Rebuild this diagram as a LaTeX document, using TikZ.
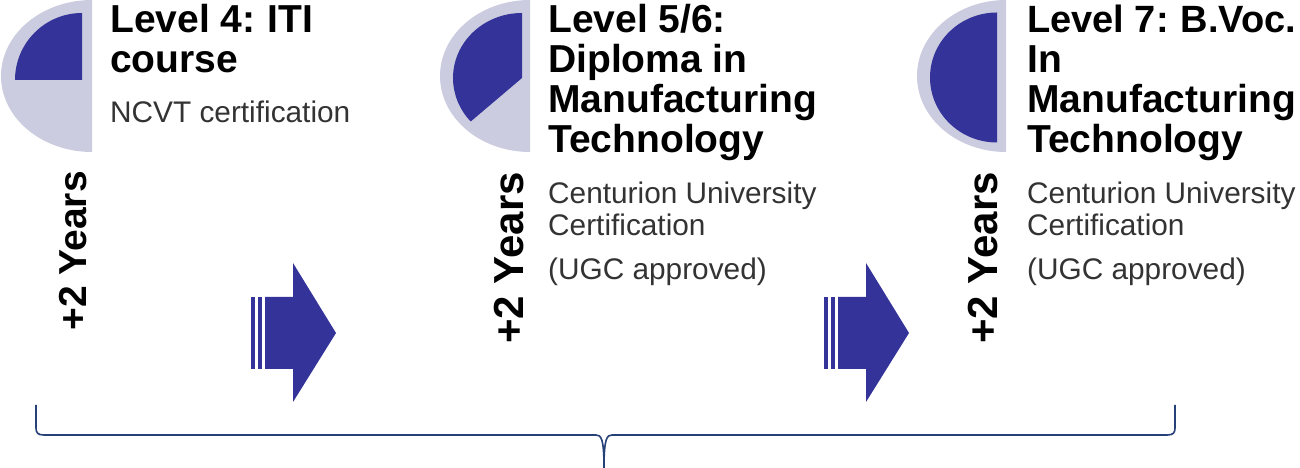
\documentclass[tikz,border=0pt]{standalone}
\usepackage{fontspec}
\setmainfont{Liberation Sans}
\definecolor{pielight}{RGB}{204,204,224}
\definecolor{piedark}{RGB}{51,51,153}
\definecolor{bracecol}{RGB}{38,64,120}
\definecolor{subgray}{RGB}{51,51,51}
\tikzset{
  titletext/.style={anchor=base west, inner sep=0pt, font=\fontsize{39}{39}\selectfont\bfseries, text=black},
  subtext/.style={anchor=base west, inner sep=0pt, font=\fontsize{29.8}{30}\selectfont, text=subgray},
  yearstext/.style={anchor=base east, rotate=90, inner sep=0pt, font=\fontsize{42}{42}\selectfont\bfseries, text=black},
  lightpie/.style={fill=pielight, draw=none},
  darkpie/.style={fill=piedark, draw=none},
  blockarrow/.style={fill=piedark, draw=none},
  bracestyle/.style={draw=bracecol, line width=1.6pt, line join=round}
}
\begin{document}
\begin{tikzpicture}[x=1pt,y=1pt]
\useasboundingbox (0,0) rectangle (1300,468);
% pie 1
\fill[lightpie] (92,392) -- (92,468) arc[start angle=90, end angle=270, x radius=91pt, y radius=76pt] -- cycle;
\fill[darkpie] (82,388) -- (82,455) arc[start angle=90, end angle=180, x radius=67pt, y radius=67pt] -- cycle;
% pie 2
\fill[lightpie] (530,392) -- (530,468) arc[start angle=90, end angle=270, x radius=90pt, y radius=76pt] -- cycle;
\fill[darkpie] (522,390) -- (522,455) arc[start angle=90, end angle=222, x radius=69pt, y radius=65pt] -- cycle;
% pie 3
\fill[lightpie] (1006,392) -- (1006,468) arc[start angle=90, end angle=270, x radius=89pt, y radius=76pt] -- cycle;
\fill[darkpie] (997,390.5) -- (997,455.5) arc[start angle=90, end angle=270, x radius=67pt, y radius=65pt] -- cycle;
% arrows
\fill[blockarrow] (251,99) rectangle (254.5,171);
\fill[blockarrow] (257.5,99) rectangle (262,171);
\fill[blockarrow] (265,99) -- (265,171) -- (293,171) -- (293,205) -- (336,135) -- (293,66) -- (293,99) -- cycle;
\fill[blockarrow] (824,99) rectangle (827.5,171);
\fill[blockarrow] (830.5,99) rectangle (835,171);
\fill[blockarrow] (838,99) -- (838,171) -- (866,171) -- (866,205) -- (909,135) -- (866,66) -- (866,99) -- cycle;
% level 4 text
\node[titletext] (l4a) at (110,435) {Level 4:\hspace{-2pt} ITI};
\node[titletext] (l4b) at (110,395) {course};
\node[subtext] (l4c) at (110,345) {NCVT certification};
\node[yearstext, font=\fontsize{39}{39}\selectfont\bfseries] (y4) at (86,297) {+2 Years};
% level 5/6 text
\node[titletext] (l5a) at (548,435) {Level 5/6:};
\node[titletext] (l5b) at (548,395) {Diploma in};
\node[titletext] (l5c) at (548,355) {Manufacturing};
\node[titletext] (l5d) at (548,315) {Technology};
\node[subtext] (l5e) at (548,264) {Centurion University};
\node[subtext] (l5f) at (548,232) {Certification};
\node[subtext] (l5g) at (548,188) {(UGC approved)};
\node[yearstext] (y5) at (523,296) {+2 Years};
% level 7 text
\node[titletext, font=\fontsize{38}{38}\selectfont\bfseries] (l7a) at (1027,435) {Level 7:\hspace{-2pt} B.Voc.};
\node[titletext] (l7b) at (1027,395) {In};
\node[titletext] (l7c) at (1027,355) {Manufacturing};
\node[titletext] (l7d) at (1027,315) {Technology};
\node[subtext] (l7e) at (1027,264) {Centurion University};
\node[subtext] (l7f) at (1027,232) {Certification};
\node[subtext] (l7g) at (1027,188) {(UGC approved)};
\node[yearstext] (y7) at (997,296) {+2 Years};
% brace
\path[bracestyle] (36,63) -- (36,40) .. controls (36,35) and (38,33) .. (44,33) -- (596,33)
  .. controls (601,33) and (604,30) .. (604,0)
  .. controls (604,30) and (607,33) .. (612,33) -- (1167,33)
  .. controls (1173,33) and (1175,35) .. (1175,40) -- (1175,63);
\end{tikzpicture}
\end{document}
